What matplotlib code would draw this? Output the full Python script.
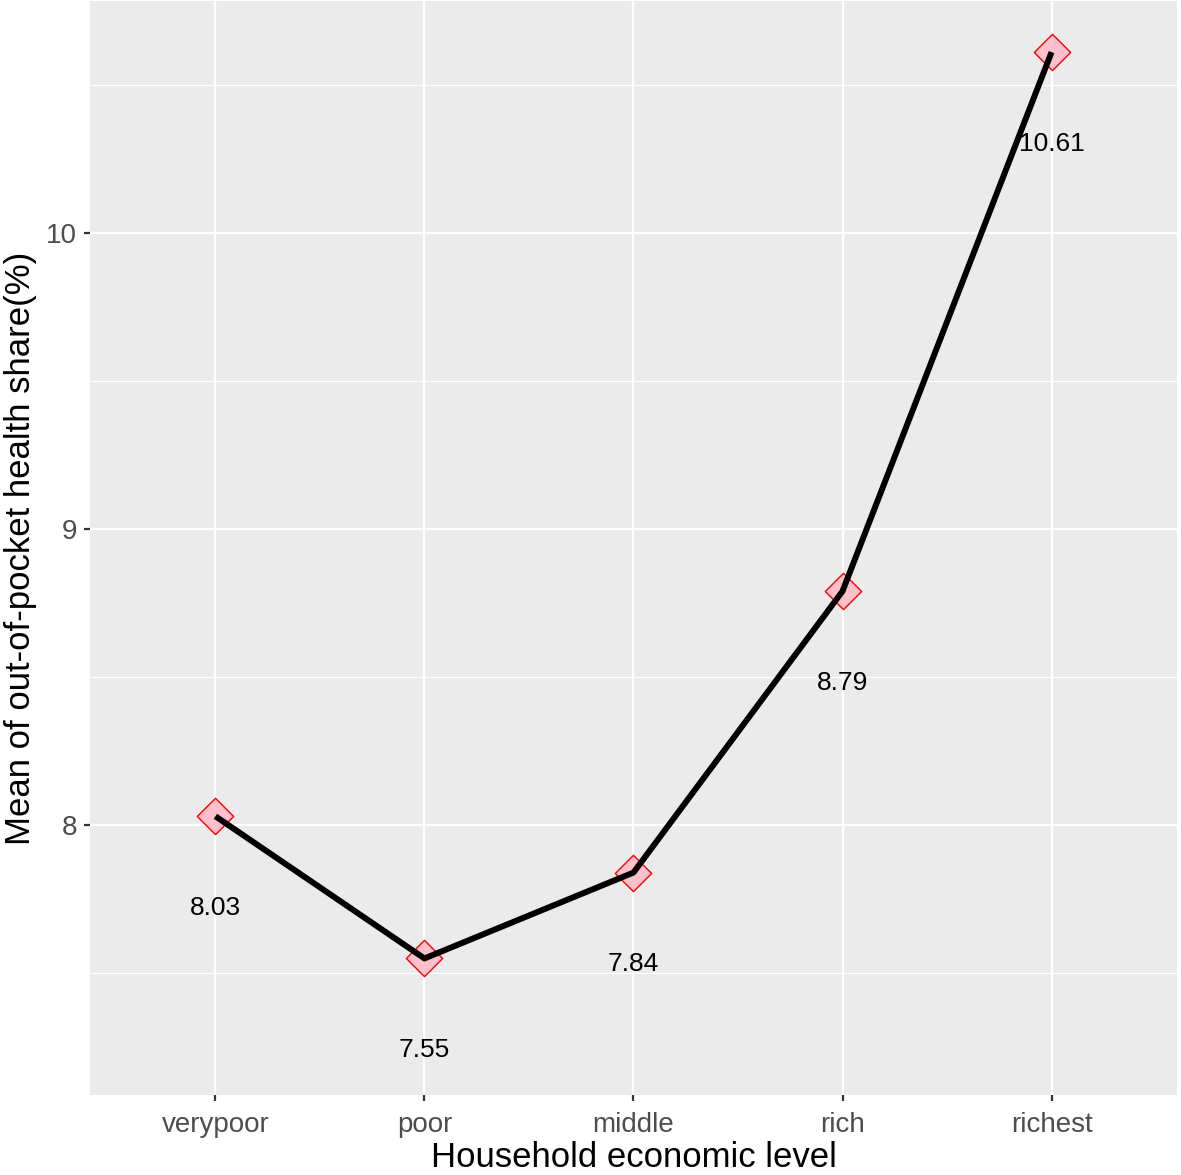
import matplotlib
matplotlib.use("Agg")
import matplotlib.pyplot as plt
from matplotlib.ticker import MultipleLocator

categories = ["verypoor", "poor", "middle", "rich", "richest"]
values = [8.03, 7.55, 7.84, 8.79, 10.61]
labels = ["8.03", "7.55", "7.84", "8.79", "10.61"]
yticks = [8, 9, 10]

plt.rcParams['font.family'] = ['Liberation Sans', 'DejaVu Sans']

fig = plt.figure(figsize=(11.81, 11.75), dpi=100)
ax = fig.add_axes([0.0762, 0.0681, 0.9204, 0.9309])
ax.set_facecolor('#EBEBEB')

x = list(range(len(categories)))
ax.plot(x, values, color='black', lw=4.3, zorder=3, solid_capstyle='butt')
ax.scatter(x, values, marker='D', s=18.5**2, facecolor='#FFC0CB', edgecolor='red',
           linewidths=1.0, zorder=2)
for xi, v, lab in zip(x, values, labels):
    ax.text(xi, v - 0.31, lab, ha='center', va='center', fontsize=19, color='black', zorder=4)

ax.set_xlim(-0.6, len(categories) - 1 + 0.6)
ax.set_ylim(7.089, 10.782)
ax.set_xticks(x)
ax.set_xticklabels(categories)
ax.set_yticks(yticks)
ax.yaxis.set_minor_locator(MultipleLocator(0.5))
ax.grid(which='major', color='white', lw=1.6)
ax.grid(which='minor', axis='y', color='white', lw=0.8)
ax.set_axisbelow(True)
for s in ax.spines.values():
    s.set_visible(False)
ax.tick_params(axis='both', which='major', length=4.5, width=1.6, color='#333333',
               labelcolor='#4D4D4D', labelsize=20, pad=5)
ax.tick_params(axis='x', which='major', pad=8)
ax.tick_params(axis='y', which='minor', length=0)
ax.set_xlabel('Household economic level', fontsize=25, labelpad=2)
ax.set_ylabel('Mean of out-of-pocket health share(%)', fontsize=25, labelpad=6)

fig.savefig('out.png', dpi=100)
